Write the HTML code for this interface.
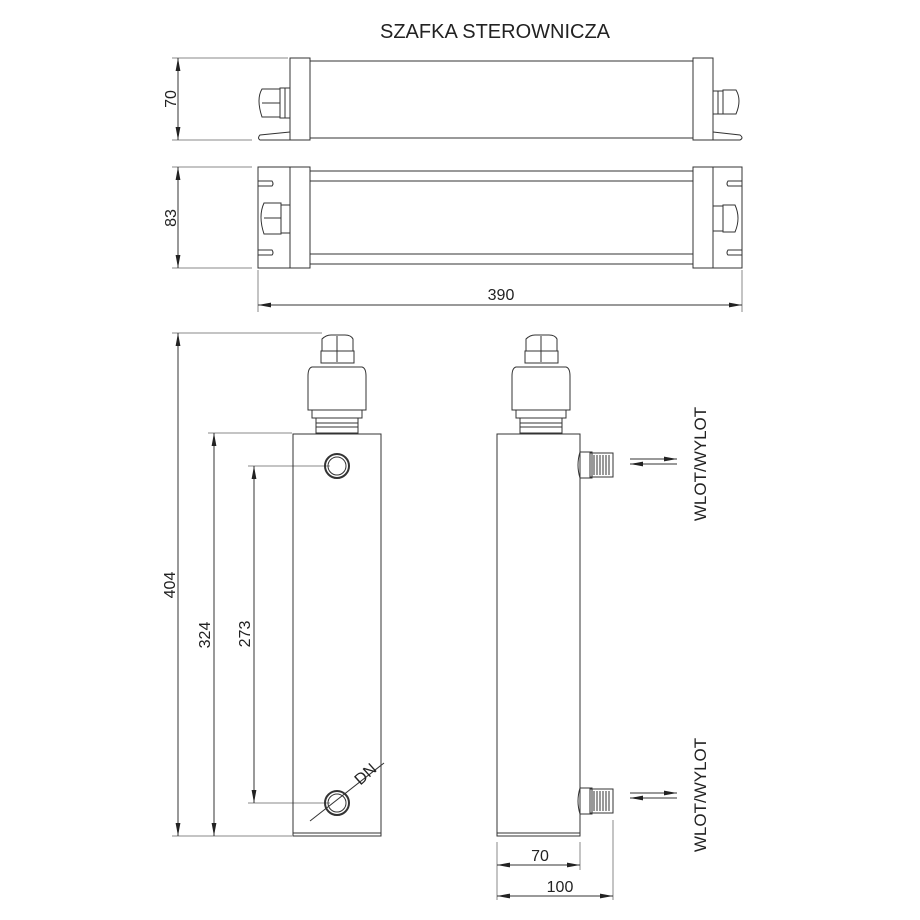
<!DOCTYPE html>
<html><head><meta charset="utf-8"><style>
html,body{margin:0;padding:0;background:#fff;}
svg{display:block;}
text{font-family:"Liberation Sans",sans-serif;fill:#222;}
</style></head><body>
<svg width="920" height="920" viewBox="0 0 920 920" xmlns="http://www.w3.org/2000/svg">
<defs>
<marker id="a" viewBox="0 0 10 10" refX="10" refY="5" markerWidth="13" markerHeight="6" orient="auto-start-reverse" markerUnits="userSpaceOnUse" preserveAspectRatio="none"><path d="M0,1 L10,5 L0,9 z" fill="#222"/></marker>
</defs>
<g fill="none" stroke="#333" stroke-width="1">
<text x="495" y="38" font-size="20" text-anchor="middle" stroke="none">SZAFKA STEROWNICZA</text>

<!-- view 1 -->
<line x1="172" y1="58" x2="288" y2="58" stroke="#888"/>
<line x1="172" y1="140" x2="252" y2="140" stroke="#888"/>
<line x1="178" y1="58" x2="178" y2="140" marker-start="url(#a)" marker-end="url(#a)"/>
<text x="0" y="0" font-size="16" text-anchor="middle" stroke="none" transform="translate(176,99) rotate(-90)">70</text>
<rect x="290" y="58" width="20" height="82"/>
<path d="M290,132 L260,135 Q257,138 260,140 L290,140"/>
<rect x="693" y="58" width="20" height="82"/>
<path d="M713,132 L740,135 Q744,138 740,140 L713,140"/>
<line x1="310" y1="61" x2="693" y2="61"/>
<line x1="310" y1="138" x2="693" y2="138"/>
<path d="M262,89 Q256,99 262,117 L280,117 L280,89 z"/>
<line x1="262" y1="103" x2="280" y2="103"/>
<rect x="280" y="88" width="10" height="30"/>
<line x1="285" y1="88" x2="285" y2="118"/>
<path d="M736,90 Q742,100 736,114 L723,114 L723,90 z"/>
<rect x="713" y="91" width="10" height="23"/>
<line x1="718" y1="91" x2="718" y2="114"/>

<!-- view 2 -->
<line x1="172" y1="167" x2="252" y2="167" stroke="#888"/>
<line x1="172" y1="268" x2="252" y2="268" stroke="#888"/>
<line x1="178" y1="167" x2="178" y2="268" marker-start="url(#a)" marker-end="url(#a)"/>
<text x="0" y="0" font-size="16" text-anchor="middle" stroke="none" transform="translate(176,218) rotate(-90)">83</text>
<path d="M290,167 L258,167 L258,268 L290,268"/>
<path d="M258,181 L272,181 Q274,184 272,186 L258,186"/>
<path d="M258,250 L272,250 Q274,253 272,255 L258,255"/>
<rect x="290" y="167" width="20" height="101"/>
<path d="M713,167 L742,167 L742,268 L713,268"/>
<path d="M742,181 L728,181 Q726,184 728,186 L742,186"/>
<path d="M742,250 L728,250 Q726,253 728,255 L742,255"/>
<rect x="693" y="167" width="20" height="101"/>
<line x1="310" y1="171" x2="693" y2="171"/>
<line x1="310" y1="181" x2="693" y2="181"/>
<line x1="310" y1="254" x2="693" y2="254"/>
<line x1="310" y1="264" x2="693" y2="264"/>
<path d="M264,203 Q258,216 264,234 L281,234 L281,203 z"/>
<line x1="264" y1="218" x2="281" y2="218"/>
<rect x="281" y="205" width="9" height="28"/>
<path d="M735,205 Q741,218 735,232 L723,232 L723,205 z"/>
<rect x="713" y="206" width="10" height="25"/>

<!-- 390 -->
<line x1="258" y1="270" x2="258" y2="312" stroke="#888"/>
<line x1="742" y1="270" x2="742" y2="312" stroke="#888"/>
<line x1="258" y1="305" x2="742" y2="305" marker-start="url(#a)" marker-end="url(#a)"/>
<text x="501" y="300" font-size="16" text-anchor="middle" stroke="none">390</text>

<!-- front view left -->
<line x1="172" y1="333" x2="322" y2="333" stroke="#888"/>
<line x1="172" y1="836" x2="292" y2="836" stroke="#888"/>
<line x1="178" y1="333" x2="178" y2="836" marker-start="url(#a)" marker-end="url(#a)"/>
<text x="0" y="0" font-size="16" text-anchor="middle" stroke="none" transform="translate(175,585) rotate(-90)">404</text>
<line x1="208" y1="433" x2="292" y2="433" stroke="#888"/>
<line x1="214" y1="433" x2="214" y2="836" marker-start="url(#a)" marker-end="url(#a)"/>
<text x="0" y="0" font-size="16" text-anchor="middle" stroke="none" transform="translate(210,635) rotate(-90)">324</text>
<line x1="248" y1="466" x2="330" y2="466" stroke="#888"/>
<line x1="248" y1="803" x2="330" y2="803" stroke="#888"/>
<line x1="254" y1="466" x2="254" y2="803" marker-start="url(#a)" marker-end="url(#a)"/>
<text x="0" y="0" font-size="16" text-anchor="middle" stroke="none" transform="translate(250,634) rotate(-90)">273</text>

<rect x="293" y="434" width="88" height="402"/>
<line x1="293" y1="833" x2="381" y2="833"/>
<path d="M322,351 L322,339 Q326,335 331,335 L345,335 Q351,335 353,339 L353,351 z"/>
<line x1="337" y1="336" x2="337" y2="362"/>
<rect x="321" y="351" width="33" height="12"/>
<path d="M312,367 Q308,368 308,376 L308,410 L366,410 L366,376 Q366,368 362,367 z"/>
<rect x="312" y="410" width="50" height="8"/>
<rect x="316" y="418" width="42" height="15"/>
<line x1="316" y1="423" x2="358" y2="423"/><line x1="316" y1="427" x2="358" y2="427"/>
<circle cx="337" cy="466" r="12" stroke-width="2"/><circle cx="337" cy="466" r="9"/>
<circle cx="337" cy="803" r="12" stroke-width="2"/><circle cx="337" cy="803" r="9"/>
<line x1="310" y1="821" x2="384" y2="763"/>
<text x="0" y="0" font-size="16" text-anchor="middle" stroke="none" transform="translate(369,778) rotate(-42)">DN</text>

<!-- side view right -->
<rect x="497" y="434" width="83" height="402"/>
<line x1="497" y1="833" x2="580" y2="833"/>
<path d="M526,351 L526,339 Q530,335 535,335 L549,335 Q555,335 557,339 L557,351 z"/>
<line x1="541" y1="336" x2="541" y2="362"/>
<rect x="525" y="351" width="33" height="12"/>
<path d="M516,367 Q512,368 512,376 L512,410 L570,410 L570,376 Q570,368 566,367 z"/>
<rect x="516" y="410" width="50" height="8"/>
<rect x="520" y="418" width="42" height="15"/>
<line x1="520" y1="423" x2="562" y2="423"/><line x1="520" y1="427" x2="562" y2="427"/>
<path d="M580,452 L592,452 L592,478 L580,478 Q576,465 580,452"/>
<rect x="590" y="453" width="23" height="24"/>
<path d="M594,455V475M597,455V475M600,455V475M603,455V475M606,455V475M609,455V475"/>
<path d="M580,788 L592,788 L592,814 L580,814 Q576,801 580,788"/>
<rect x="590" y="789" width="23" height="24"/>
<path d="M594,791V811M597,791V811M600,791V811M603,791V811M606,791V811M609,791V811"/>

<line x1="630" y1="459" x2="677" y2="459" marker-end="url(#a)"/>
<line x1="630" y1="464" x2="677" y2="464" marker-start="url(#a)"/>
<line x1="630" y1="793" x2="677" y2="793" marker-end="url(#a)"/>
<line x1="630" y1="798" x2="677" y2="798" marker-start="url(#a)"/>
<text x="0" y="0" font-size="17" text-anchor="middle" stroke="none" transform="translate(706,464) rotate(-90)">WLOT/WYLOT</text>
<text x="0" y="0" font-size="17" text-anchor="middle" stroke="none" transform="translate(706,795) rotate(-90)">WLOT/WYLOT</text>

<line x1="497" y1="842" x2="497" y2="900" stroke="#888"/>
<line x1="580" y1="842" x2="580" y2="870" stroke="#888"/>
<line x1="613" y1="820" x2="613" y2="900" stroke="#888"/>
<line x1="497" y1="865" x2="580" y2="865" marker-start="url(#a)" marker-end="url(#a)"/>
<text x="540" y="861" font-size="16" text-anchor="middle" stroke="none">70</text>
<line x1="497" y1="896" x2="613" y2="896" marker-start="url(#a)" marker-end="url(#a)"/>
<text x="560" y="892" font-size="16" text-anchor="middle" stroke="none">100</text>
</g>
</svg>
</body></html>
